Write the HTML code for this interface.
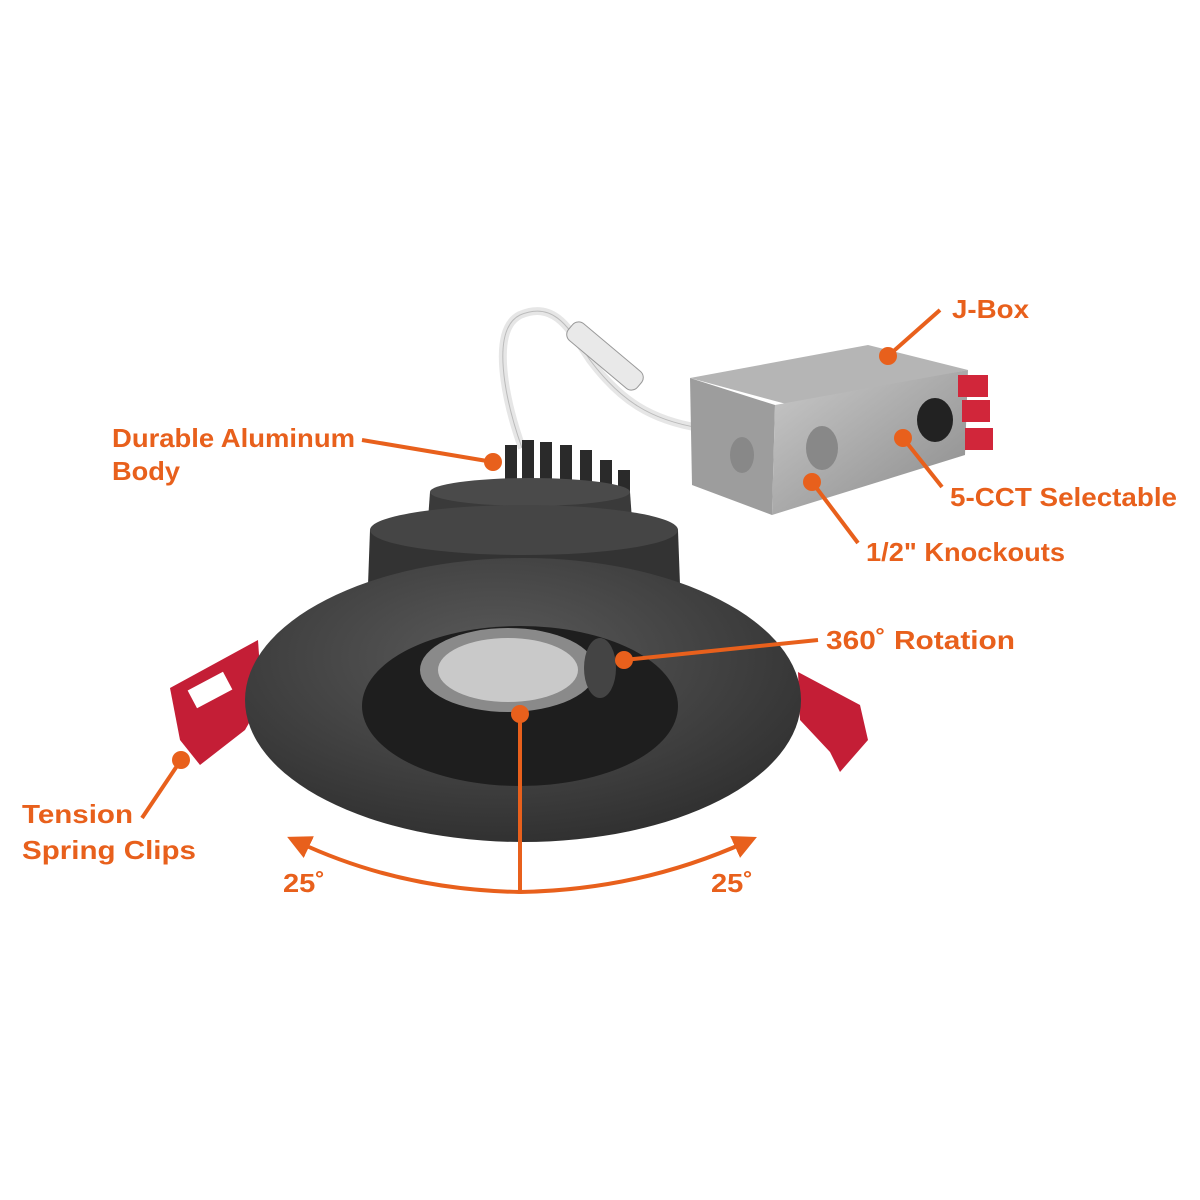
<!DOCTYPE html>
<html><head><meta charset="utf-8"><style>
html,body{margin:0;padding:0;background:#fff}
svg{display:block}
text{font-family:"Liberation Sans",Arial,sans-serif;font-weight:bold;fill:#e8601c;font-size:26px}
</style></head><body>
<svg width="1200" height="1200" viewBox="0 0 1200 1200" xmlns="http://www.w3.org/2000/svg">
<defs>
<radialGradient id="trim" cx="0.45" cy="0.35" r="0.7">
<stop offset="0" stop-color="#5a5a5a"/><stop offset="1" stop-color="#2e2e2e"/></radialGradient>
<linearGradient id="box" x1="0" y1="0" x2="1" y2="1">
<stop offset="0" stop-color="#c9c9c9"/><stop offset="1" stop-color="#8a8a8a"/></linearGradient>
<marker id="ah" viewBox="0 0 10 10" refX="5" refY="5" markerWidth="6" markerHeight="6" orient="auto-start-reverse">
<path d="M0,0 L10,5 L0,10 z" fill="#e8601c"/></marker>
</defs>
<path d="M522,448 C505,400 490,330 520,315 C555,300 570,330 590,360 C620,400 650,420 700,428" fill="none" stroke="#e6e6e6" stroke-width="8"/>
<path d="M522,448 C505,400 490,330 520,315 C555,300 570,330 590,360 C620,400 650,420 700,428" fill="none" stroke="#bbb" stroke-width="1"/>
<rect x="560" y="345" width="90" height="22" rx="8" fill="#e9e9e9" stroke="#999" transform="rotate(40 605 356)"/>
<polygon points="690,378 868,345 968,370 790,405" fill="#b5b5b5"/>
<polygon points="690,378 775,405 772,515 692,485" fill="#9d9d9d"/>
<polygon points="775,405 968,370 965,455 772,515" fill="url(#box)"/>
<ellipse cx="742" cy="455" rx="12" ry="18" fill="#888"/>
<ellipse cx="822" cy="448" rx="16" ry="22" fill="#888"/>
<ellipse cx="935" cy="420" rx="18" ry="22" fill="#222"/>
<rect x="958" y="375" width="30" height="22" fill="#d1263a"/>
<rect x="962" y="400" width="28" height="22" fill="#d1263a"/>
<rect x="965" y="428" width="28" height="22" fill="#d1263a"/>
<polygon points="170,688 258,640 262,700 245,730 200,765 180,740" fill="#c41e36"/>
<rect x="190" y="680" width="40" height="20" fill="#fff" transform="rotate(-28 210 690)"/>
<polygon points="798,672 860,705 868,740 840,772 830,752 800,720" fill="#c41e36"/>
<g fill="#2a2a2a">
<rect x="505" y="445" width="12" height="50"/><rect x="522" y="440" width="12" height="55"/>
<rect x="540" y="442" width="12" height="53"/><rect x="560" y="445" width="12" height="50"/>
<rect x="580" y="450" width="12" height="45"/><rect x="600" y="460" width="12" height="35"/>
<rect x="618" y="470" width="12" height="25"/>
</g>
<path d="M430,492 L630,492 L632,520 L428,520 Z" fill="#3a3a3a"/>
<ellipse cx="530" cy="492" rx="100" ry="14" fill="#4a4a4a"/>
<path d="M370,530 L678,530 L680,585 L368,585 Z" fill="#333"/>
<ellipse cx="524" cy="530" rx="154" ry="25" fill="#454545"/>
<ellipse cx="523" cy="700" rx="278" ry="142" fill="url(#trim)"/>
<ellipse cx="520" cy="706" rx="158" ry="80" fill="#1e1e1e"/>
<ellipse cx="508" cy="670" rx="88" ry="42" fill="#8a8a8a"/>
<ellipse cx="508" cy="670" rx="70" ry="32" fill="#c9c9c9"/>
<ellipse cx="600" cy="668" rx="16" ry="30" fill="#444"/>
<g stroke="#e8601c" stroke-width="4" fill="none">
<line x1="520" y1="714" x2="520" y2="892"/>
<path d="M520,892 Q400,890 298,842" marker-end="url(#ah)"/>
<path d="M520,892 Q640,890 746,842" marker-end="url(#ah)"/>
<line x1="362" y1="440" x2="493" y2="462"/>
<line x1="940" y1="310" x2="888" y2="356"/>
<line x1="942" y1="487" x2="903" y2="438"/>
<line x1="858" y1="543" x2="812" y2="482"/>
<line x1="818" y1="640" x2="624" y2="660"/>
<line x1="142" y1="818" x2="181" y2="760"/>
</g>
<g fill="#e8601c">
<circle cx="493" cy="462" r="9"/><circle cx="888" cy="356" r="9"/><circle cx="903" cy="438" r="9"/>
<circle cx="812" cy="482" r="9"/><circle cx="624" cy="660" r="9"/><circle cx="181" cy="760" r="9"/>
<circle cx="520" cy="714" r="9"/>
</g>
<text x="952" y="318" textLength="77" lengthAdjust="spacingAndGlyphs">J-Box</text>
<text x="112" y="447" textLength="243" lengthAdjust="spacingAndGlyphs">Durable Aluminum</text>
<text x="112" y="480" textLength="68" lengthAdjust="spacingAndGlyphs">Body</text>
<text x="950" y="506" textLength="227" lengthAdjust="spacingAndGlyphs">5-CCT Selectable</text>
<text x="866" y="561" textLength="199" lengthAdjust="spacingAndGlyphs">1/2" Knockouts</text>
<text x="826" y="649" textLength="189" lengthAdjust="spacingAndGlyphs">360˚ Rotation</text>
<text x="22" y="823" textLength="111" lengthAdjust="spacingAndGlyphs">Tension</text>
<text x="22" y="859" textLength="174" lengthAdjust="spacingAndGlyphs">Spring Clips</text>
<text x="283" y="892" textLength="42" lengthAdjust="spacingAndGlyphs">25˚</text>
<text x="711" y="892" textLength="42" lengthAdjust="spacingAndGlyphs">25˚</text>
</svg>
</body></html>
